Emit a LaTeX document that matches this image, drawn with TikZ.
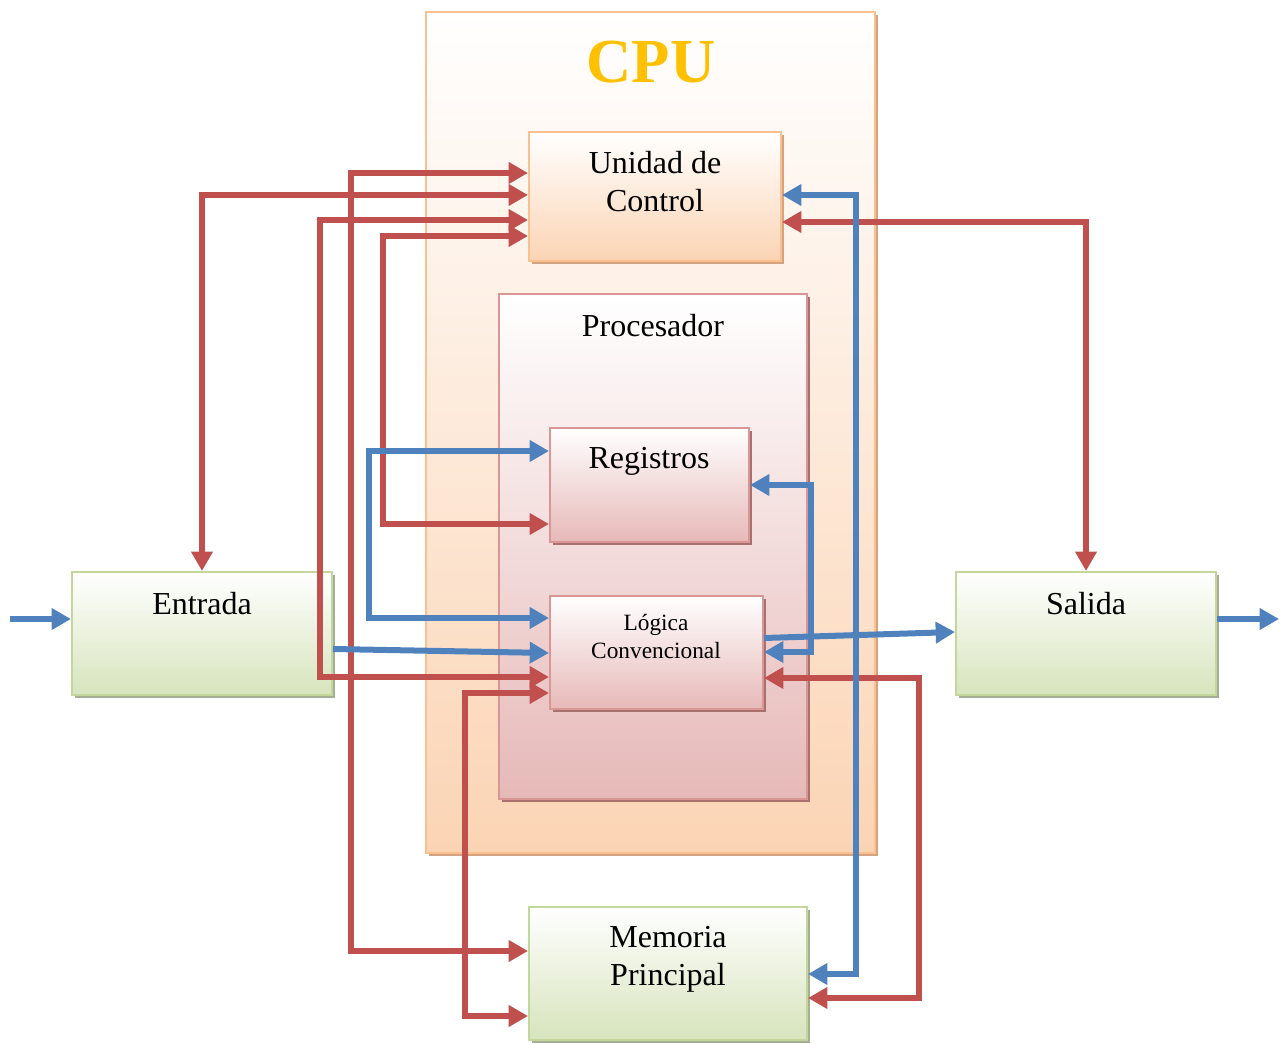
\documentclass[tikz,border=0pt]{standalone}
\usepackage{fontspec}
\setmainfont{Liberation Serif}
\usetikzlibrary{arrows.meta,shadows,fit}

\definecolor{wireRed}{HTML}{C0504D}
\definecolor{wireBlue}{HTML}{4F81BD}
\definecolor{peachEdge}{HTML}{FAC08F}
\definecolor{peachFill}{HTML}{FBD4B4}
\definecolor{peachShade}{HTML}{D3A47F}
\definecolor{roseEdge}{HTML}{D99694}
\definecolor{roseFill}{HTML}{E6B9B8}
\definecolor{roseShade}{HTML}{A8716F}
\definecolor{greenEdge}{HTML}{C3D69B}
\definecolor{greenFill}{HTML}{D7E4BD}
\definecolor{greenShade}{HTML}{A6AE93}
\definecolor{cpuGold}{HTML}{FFC000}

\tikzset{
  boxbase/.style={inner sep=0pt, line width=1.5pt},
  peachbox/.style={boxbase, draw=peachEdge, top color=white, bottom color=peachFill,
    general shadow={fill=peachShade, shadow xshift=2.2pt, shadow yshift=-2.2pt}},
  rosebox/.style={boxbase, draw=roseEdge, top color=white, bottom color=roseFill,
    general shadow={fill=roseShade, shadow xshift=2.2pt, shadow yshift=-2.2pt}},
  greenbox/.style={boxbase, draw=greenEdge, top color=white, bottom color=greenFill,
    general shadow={fill=greenShade, shadow xshift=2.2pt, shadow yshift=-2.2pt}},
  lbl/.style={font=\fontsize{24}{28.5}\selectfont, align=center, inner sep=0pt},
  smalllbl/.style={font=\fontsize{17.5}{21}\selectfont, align=center, inner sep=0pt},
  wire/.style={line width=4.5pt, >={Triangle[length=14.5pt,width=15.5pt]}},
  redwire/.style={wire, draw=wireRed},
  bluewire/.style={wire, draw=wireBlue},
}

\begin{document}
\begin{tikzpicture}[x=0.75pt,y=-0.75pt]
\useasboundingbox (0,0) rectangle (1287,1044);

% CPU enclosure and its parts
\node[peachbox, fit={(426,12) (875,853)}] (cpu) {};
\node[font=\bfseries\fontsize{47}{50}\selectfont, text=cpuGold, inner sep=0pt] (cputext) at (651,62) {CPU};
\node[peachbox, fit={(529,132) (781,261)}] (uc) {};
\node[lbl] (uctext) at (655,182) {Unidad de\\Control};
\node[rosebox, fit={(499,294) (807,799)}] (proc) {};
\node[lbl] (proctext) at (653,326) {Procesador};
\node[rosebox, fit={(550,428) (749,542)}] (reg) {};
\node[lbl] (regtext) at (649,461) {Registros};
\node[rosebox, fit={(550,596) (763,709)}] (log) {};
\node[smalllbl] (logtext) at (656,636) {Lógica\\Convencional};

% Input, output and main memory
\node[greenbox, fit={(72,572) (332,695)}] (ent) {};
\node[lbl] (enttext) at (202,604) {Entrada};
\node[greenbox, fit={(956,572) (1216,695)}] (sal) {};
\node[lbl] (saltext) at (1086,604) {Salida};
\node[greenbox, fit={(529,907) (807,1040)}] (mem) {};
\node[lbl] (memtext) at (668,959) {Memoria\\Principal};

\coordinate (inpt) at (10,619);
\coordinate (outpt) at (1279,619);

% control lines
\draw[redwire,<->] (uc.west |- 0,173) -| (351,951) -- (mem.west |- 0,951);
\draw[redwire,<->] (uc.west |- 0,195) -| (ent.north);
\draw[redwire,<->] (uc.west |- 0,220) -| (320,677) -- (log.west |- 0,677);
\draw[redwire,<->] (uc.west |- 0,236) -| (383,524) -- (reg.west |- 0,524);
\draw[redwire,<->] (uc.east |- 0,222) -| (sal.north);
\draw[redwire,<->] (log.east |- 0,678) -| (919,998) -- (mem.east |- 0,998);
\draw[redwire,<->] (mem.west |- 0,1016) -| (465,693) -- (log.west |- 0,693);

% data lines
\draw[bluewire,->] (inpt) -- (ent.west |- inpt);
\draw[bluewire,->] (sal.east |- outpt) -- (outpt);
\draw[bluewire,<->] (reg.west |- 0,451) -| (369,618) -- (log.west |- 0,618);
\draw[bluewire,->] (ent.east |- 0,649) -- (log.west |- 0,653);
\draw[bluewire,->] (log.east |- 0,638) -- (sal.west |- 0,632);
\draw[bluewire,<->] (reg.east |- 0,485) -| (811,652) -- (log.east |- 0,652);
\draw[bluewire,<->] (uc.east |- 0,195) -| (856,974) -- (mem.east |- 0,974);
\end{tikzpicture}
\end{document}
